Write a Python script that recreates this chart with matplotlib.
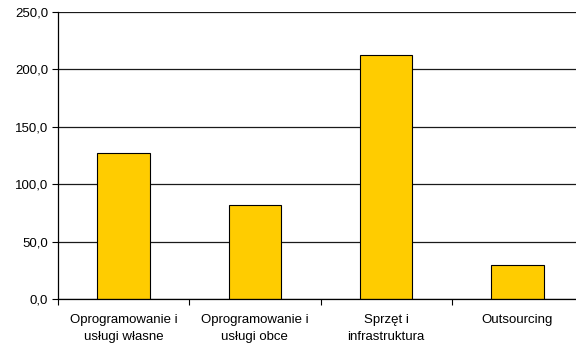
import matplotlib
matplotlib.use("Agg")
import matplotlib.pyplot as plt
from matplotlib.ticker import FuncFormatter, FixedLocator, NullFormatter
import numpy as np

plt.rcParams['font.family'] = ['Liberation Sans', 'DejaVu Sans']

# Data
categories = ["Oprogramowanie i\nusługi własne", "Oprogramowanie i\nusługi obce",
              "Sprzęt i\ninfrastruktura", "Outsourcing"]
values = [126.8, 81.9, 212.5, 29.4]
yticks = [0, 50, 100, 150, 200, 250]

fig = plt.figure(figsize=(5.76, 3.47), dpi=100)
ax = fig.add_axes([58 / 576, 1 - 299 / 347, 525 / 576, 287 / 347])

x = np.arange(len(categories))
ax.bar(x, values, width=0.4, color='#FFCC00', edgecolor='black', linewidth=0.8, zorder=3)

ax.set_xlim(-0.5, len(categories) - 0.5)
ax.set_ylim(0, 250)
ax.set_yticks(yticks)
ax.yaxis.set_major_formatter(FuncFormatter(lambda v, p: f"{v:.1f}".replace('.', ',')))
ax.yaxis.grid(True, color='#1a1a1a', linewidth=0.9, zorder=0)

# category boundaries as ticks, labels drawn in the middle
ax.xaxis.set_major_locator(FixedLocator(np.arange(-0.5, len(categories), 1.0)))
ax.xaxis.set_major_formatter(NullFormatter())
ax.tick_params(axis='x', which='major', length=4, width=0.8, color='black')
ax.tick_params(axis='y', length=4, width=0.8, labelsize=9.5, pad=3)

for xi, cat in zip(x, categories):
    ax.annotate(cat, xy=(xi, 0), xycoords=('data', 'axes fraction'),
                xytext=(0, -10.5), textcoords='offset points',
                ha='center', va='top', fontsize=9.5, linespacing=1.6,
                annotation_clip=False)

for s in ['top', 'right']:
    ax.spines[s].set_visible(False)
ax.spines['left'].set_linewidth(0.9)
ax.spines['bottom'].set_linewidth(0.9)
ax.spines['bottom'].set_zorder(4)

fig.savefig("out.png", dpi=100)
